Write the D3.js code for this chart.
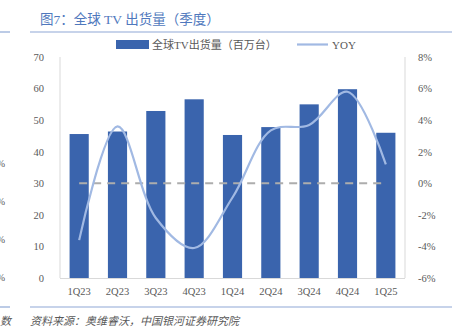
<!DOCTYPE html>
<html><head><meta charset="utf-8">
<script src="https://cdn.jsdelivr.net/npm/d3@7/dist/d3.min.js"></script>
<style>body{margin:0;background:#fff}svg{display:block}</style>
</head><body>
<script>
const categories = ["1Q23","2Q23","3Q23","4Q23","1Q24","2Q24","3Q24","4Q24","1Q25"];
const shipments = [45.6, 46.4, 52.9, 56.6, 45.3, 47.8, 55.0, 59.8, 46.0];
const yoy = [-3.6, 3.6, -2.2, -4.1, -0.9, 3.35, 3.7, 5.8, 1.2];
const leftTicks = [0,10,20,30,40,50,60,70];
const rightTicks = [-6,-4,-2,0,2,4,6,8];
const title = "图7：全球 TV 出货量（季度）";
const source = "资料来源：奥维睿沃，中国银河证券研究院";
const seriesNames = ["全球TV出货量（百万台）","YOY"];

const W=455,H=334;
const m={l:60,r:50,t:57,b:56};
const svg=d3.select("body").append("svg").attr("width",W).attr("height",H);
const font='"Liberation Serif","Noto Sans CJK SC",serif';

// page fragments
svg.append("line").attr("x1",0).attr("x2",10).attr("y1",32).attr("y2",32).attr("stroke","#8fa8d6").attr("stroke-width",1.2);
svg.append("line").attr("x1",30).attr("x2",452).attr("y1",32).attr("y2",32).attr("stroke","#8fa8d6").attr("stroke-width",1.2);
svg.append("line").attr("x1",0).attr("x2",10).attr("y1",307).attr("y2",307).attr("stroke","#8fa8d6").attr("stroke-width",1.2);
svg.append("line").attr("x1",30).attr("x2",452).attr("y1",307).attr("y2",307).attr("stroke","#8fa8d6").attr("stroke-width",1.2);
[167,205,243,281].forEach(y=>svg.append("text").attr("x",5).attr("y",y).attr("text-anchor","end").attr("font-family",font).attr("font-size",10).attr("fill","#595959").text("%"));
svg.append("text").attr("x",11).attr("y",325).attr("text-anchor","end").attr("font-family",font).attr("font-size",11).attr("font-style","italic").attr("fill","#595959").text("数");

svg.append("text").attr("x",40).attr("y",24).attr("font-family",font).attr("font-size",13.5).attr("fill","#4f78bd").text(title);
svg.append("text").attr("x",30).attr("y",325).attr("font-family",font).attr("font-size",11).attr("font-style","italic").attr("fill","#595959").text(source);

const x=d3.scaleBand().domain(categories).range([m.l,W-m.r]).paddingInner(0.5).paddingOuter(0.25);
const yL=d3.scaleLinear().domain([0,70]).range([H-m.b,m.t]);
const yR=d3.scaleLinear().domain([-6,8]).range([H-m.b,m.t]);

// frame
const g=svg.append("g");
g.append("line").attr("x1",m.l).attr("x2",m.l).attr("y1",m.t).attr("y2",H-m.b).attr("stroke","#d9d9d9");
g.append("line").attr("x1",W-m.r).attr("x2",W-m.r).attr("y1",m.t).attr("y2",H-m.b).attr("stroke","#d9d9d9");
g.append("line").attr("x1",m.l).attr("x2",W-m.r).attr("y1",H-m.b+0.5).attr("y2",H-m.b+0.5).attr("stroke","#d9d9d9");

// bars
g.selectAll("rect.bar").data(shipments).join("rect").attr("class","bar")
 .attr("x",(d,i)=>x(categories[i])).attr("width",x.bandwidth())
 .attr("y",d=>yL(d)).attr("height",d=>yL(0)-yL(d)).attr("fill","#3a64ad");

// zero dashed
g.append("line").attr("x1",x(categories[0])+x.bandwidth()/2).attr("x2",x(categories[categories.length-1])+x.bandwidth()/2)
 .attr("y1",yR(0)).attr("y2",yR(0)).attr("stroke","#adadad").attr("stroke-width",2).attr("stroke-dasharray","8,6");

// yoy line
const line=d3.line().x((d,i)=>x(categories[i])+x.bandwidth()/2).y(d=>yR(d)).curve(d3.curveCatmullRom.alpha(0.5));
g.append("path").datum(yoy).attr("d",line).attr("fill","none").attr("stroke","#a1b9e3").attr("stroke-width",2.2);

// axes
const axL=d3.axisLeft(yL).tickValues(leftTicks).tickSize(0).tickPadding(16);
const axR=d3.axisRight(yR).tickValues(rightTicks).tickSize(0).tickPadding(13).tickFormat(d=>d+"%");
const axB=d3.axisBottom(x).tickSize(0).tickPadding(10);
function style(sel){sel.select(".domain").remove();sel.selectAll("text").attr("font-family",font).attr("font-size",10.5).attr("fill","#595959");}
svg.append("g").attr("transform",`translate(${m.l},0)`).call(axL).call(style);
svg.append("g").attr("transform",`translate(${W-m.r},0)`).call(axR).call(style);
svg.append("g").attr("transform",`translate(0,${H-m.b})`).call(axB).call(style);

// legend
const lg=svg.append("g");
lg.append("rect").attr("x",116).attr("y",40).attr("width",33).attr("height",9).attr("fill","#3a64ad");
lg.append("text").attr("x",152).attr("y",49).attr("font-family",font).attr("font-size",11).attr("fill","#595959").text(seriesNames[0]);
lg.append("line").attr("x1",297).attr("x2",328).attr("y1",44.5).attr("y2",44.5).attr("stroke","#a1b9e3").attr("stroke-width",2.2);
lg.append("text").attr("x",332).attr("y",49).attr("font-family",font).attr("font-size",11).attr("fill","#595959").text(seriesNames[1]);
</script>
</body></html>
